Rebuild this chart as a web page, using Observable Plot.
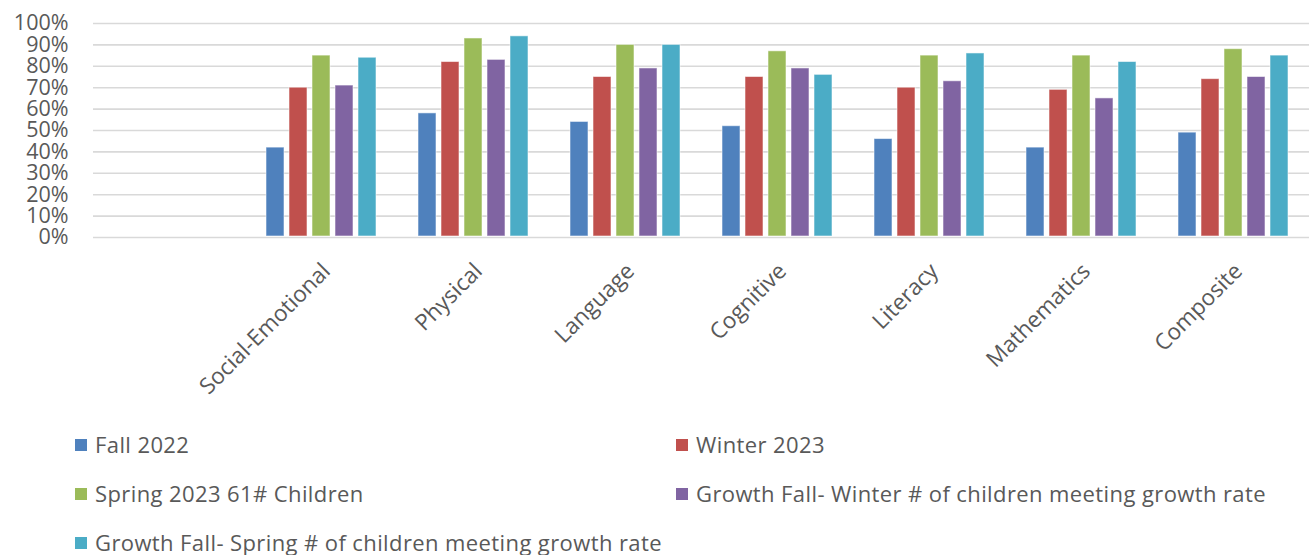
<!DOCTYPE html>
<html>
<head>
<meta charset="utf-8">
<script src="https://cdn.jsdelivr.net/npm/d3@7"></script>
<script src="https://cdn.jsdelivr.net/npm/@observablehq/plot@0.6"></script>
<style>
  html, body { margin: 0; padding: 0; background: #fff; }
  #wrap { width: 1312px; }
  #chart svg { display: block; }
  #legend {
    display: grid;
    grid-template-columns: 601px auto;
    padding-left: 75px;
    font-family: "Open Sans", sans-serif;
    font-size: 22px;
    letter-spacing: 0.4px;
    line-height: 1.2;
    color: #595959;
  }
  .item { height: 49px; display: flex; align-items: center; white-space: nowrap; }
  .sw { width: 12px; height: 12px; margin-right: 8px; flex: none; }
</style>
</head>
<body>
<div id="wrap">
  <div id="chart"></div>
  <div id="legend"></div>
</div>
<script>
const categories = ["", "Social-Emotional", "Physical", "Language", "Cognitive", "Literacy", "Mathematics", "Composite"];
const seriesNames = [
  "Fall 2022",
  "Winter 2023",
  "Spring 2023 61# Children",
  "Growth Fall- Winter # of children meeting growth rate",
  "Growth Fall- Spring # of children meeting growth rate"
];
const colors = ["#4F81BD", "#C0504D", "#9BBB59", "#8064A2", "#4BACC6"];
const fall2022   = [null, 42, 58, 54, 52, 46, 42, 49];
const winter2023 = [null, 70, 82, 75, 75, 70, 69, 74];
const spring2023 = [null, 85, 93, 90, 87, 85, 85, 88];
const growthFW   = [null, 71, 83, 79, 79, 73, 65, 75];
const growthFS   = [null, 84, 94, 90, 76, 86, 82, 85];
const yTicks = [0, 10, 20, 30, 40, 50, 60, 70, 80, 90, 100];

const seriesValues = [fall2022, winter2023, spring2023, growthFW, growthFS];
const rows = [];
categories.forEach((c, i) => {
  seriesNames.forEach((s, j) => {
    rows.push({category: c, series: s, value: seriesValues[j][i]});
  });
});

const chart = Plot.plot({
  width: 1312,
  height: 420,
  marginTop: 23,
  marginBottom: 183,
  marginLeft: 90,
  marginRight: 0,
  style: {fontFamily: "'Open Sans', sans-serif", background: "#fff"},
  fx: {domain: categories, padding: 0},
  x: {domain: seriesNames, paddingInner: 0.2, paddingOuter: 0.86},
  y: {domain: [0, 100]},
  color: {domain: seriesNames, range: colors},
  marks: [
    Plot.ruleY(yTicks, {stroke: "#d9d9d9", strokeWidth: 1.6}),
    Plot.barY(rows, {fx: "category", x: "series", y: "value", fill: "series", stroke: "#ffffff", strokeOpacity: 0.55, strokeWidth: 1, insetBottom: 1}),
    Plot.axisY(yTicks, {tickSize: 0, tickPadding: 25, tickFormat: d => d + "%", fontSize: 21.5, fill: "#595959", label: null}),
    Plot.axisX({ticks: [], label: null, tickSize: 0}),
    Plot.axisFx({anchor: "bottom", tickSize: 0, tickRotate: -45, tickPadding: 30, dx: 5, fontSize: 22.5, fill: "#595959", label: null})
  ]
});
document.getElementById("chart").appendChild(chart);

const legend = document.getElementById("legend");
seriesNames.forEach((s, i) => {
  const it = document.createElement("div");
  it.className = "item";
  const sw = document.createElement("span");
  sw.className = "sw";
  sw.style.background = colors[i];
  const t = document.createElement("span");
  t.textContent = s;
  it.appendChild(sw);
  it.appendChild(t);
  legend.appendChild(it);
});
</script>
</body>
</html>
